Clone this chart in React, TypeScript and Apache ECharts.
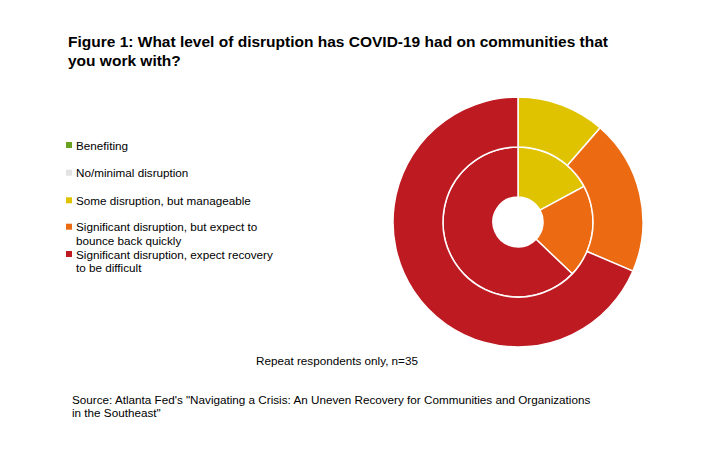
import React, { useEffect, useRef } from "react";
import * as echarts from "echarts";

const categories = [
  "Benefiting",
  "No/minimal disruption",
  "Some disruption, but manageable",
  "Significant disruption, but expect to\nbounce back quickly",
  "Significant disruption, expect recovery\nto be difficult",
];
const colors = ["#6AA121", "#E3E3E3", "#DFC300", "#EC6A12", "#BE1A22"];
// Respondent counts (n=35) per category
const values2020 = [0, 0, 6, 7, 22];
const values2021 = [0, 0, 4, 7, 24];
const yearLabels = ["2020", "2021"];

const FONT = "'Liberation Sans', Arial, Helvetica, sans-serif";
const BODY_SIZE = 11.7;

export default function App() {
  const ref = useRef<HTMLDivElement>(null);

  useEffect(() => {
    if (!ref.current) return;
    const chart = echarts.init(ref.current, undefined, { renderer: "svg" });

    // vertical centre of each legend entry's first text line
    const legendRows = [145, 172.7, 200.3, 226.7, 254];
    const legends = categories.map((name, i) => ({
      data: [name],
      left: 66,
      top: legendRows[i] - 6.5,
      padding: 0,
      icon: "rect",
      itemWidth: 6,
      itemHeight: 6,
      itemStyle: { borderWidth: 0 },
      selectedMode: false,
      formatter: (n: string) => n.split("\n")[0],
      textStyle: {
        fontSize: BODY_SIZE,
        fontFamily: FONT,
        color: "#000",
        lineHeight: 13,
        padding: [0, 0, 0, -1],
      },
    }));

    // continuation lines of the wrapped legend labels
    const legendContinuations = categories
      .map((name, i) => ({ name, i }))
      .filter(({ name }) => name.includes("\n"))
      .map(({ name, i }) => ({
        type: "text",
        x: 76,
        y: legendRows[i] + 13.3,
        style: {
          text: name.split("\n").slice(1).join("\n"),
          fill: "#000",
          font: `${BODY_SIZE}px ${FONT}`,
          align: "left",
          verticalAlign: "middle",
        },
      }));

    const mk = (vals: number[]) =>
      vals.map((v, i) => ({
        name: categories[i],
        value: v,
        itemStyle: { color: colors[i] },
      }));

    const ring = (name: string, radius: number[], vals: number[]) => ({
      name,
      type: "pie",
      center: [518, 222],
      radius,
      startAngle: 90,
      clockwise: true,
      label: { show: false },
      labelLine: { show: false },
      emphasis: { disabled: true },
      itemStyle: { borderColor: "#fff", borderWidth: 1.5 },
      data: mk(vals),
    });

    chart.setOption({
      animation: false,
      backgroundColor: "#fff",
      title: {
        text: "Figure 1: What level of disruption has COVID-19 had on communities that\nyou work with?",
        left: 68,
        top: 32,
        padding: 0,
        textStyle: {
          fontSize: 15.5,
          fontWeight: "bold",
          fontFamily: FONT,
          color: "#000",
          lineHeight: 19,
        },
      },
      legend: legends,
      series: [
        ring(yearLabels[0], [25, 75], values2020),
        ring(yearLabels[1], [75, 125], values2021),
      ],
      graphic: [
        ...legendContinuations,
        {
          type: "text",
          x: 472,
          y: 243,
          style: {
            text: yearLabels[0],
            fill: "#fff",
            font: `bold 11px ${FONT}`,
            align: "center",
            verticalAlign: "middle",
          },
        },
        {
          type: "text",
          x: 436,
          y: 280,
          style: {
            text: yearLabels[1],
            fill: "#fff",
            font: `bold 11px ${FONT}`,
            align: "center",
            verticalAlign: "middle",
          },
        },
        {
          type: "text",
          x: 337,
          y: 360.5,
          style: {
            text: "Repeat respondents only, n=35",
            fill: "#000",
            font: `${BODY_SIZE}px ${FONT}`,
            align: "center",
            verticalAlign: "middle",
          },
        },
        {
          type: "text",
          x: 72,
          y: 393,
          style: {
            text:
              'Source: Atlanta Fed\'s "Navigating a Crisis: An Uneven Recovery for Communities and Organizations\nin the Southeast"',
            fill: "#000",
            font: `${BODY_SIZE}px ${FONT}`,
            lineHeight: 13,
            align: "left",
            verticalAlign: "top",
          },
        },
      ],
    });

    return () => chart.dispose();
  }, []);

  return (
    <div
      ref={ref}
      style={{ position: "absolute", left: 0, top: 0, width: 710, height: 451 }}
    />
  );
}
